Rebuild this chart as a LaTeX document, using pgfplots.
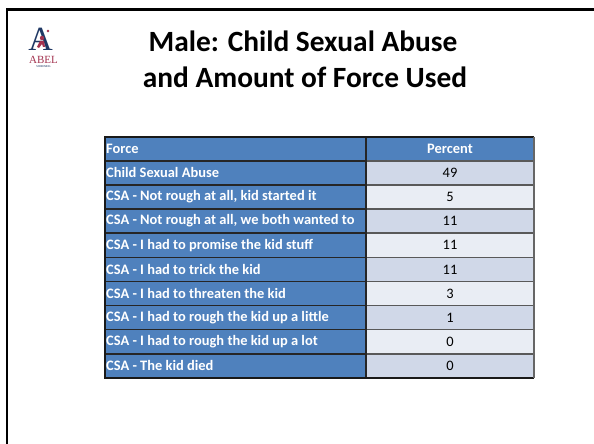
\documentclass[border=0pt]{standalone}
\usepackage{pgfplots}
\pgfplotsset{compat=1.18}
\usepackage{fontspec}
\setmainfont{Carlito}
\newfontfamily\seriffont{Liberation Serif}
\definecolor{hdrblue}{HTML}{4F81BD}
\definecolor{celldark}{HTML}{D0D8E8}
\definecolor{celllight}{HTML}{E9EDF4}
\definecolor{logonavy}{HTML}{1F3864}
\definecolor{logored}{HTML}{A3324F}
\begin{document}
\begin{tikzpicture}
\begin{scope}[x=1bp,y=-1bp,yshift=444bp]
\useasboundingbox (0,0) rectangle (594,444);
\fill[white] (0,0) rectangle (594,444);
\draw[line width=2bp] (7,444) -- (7,9.5);
\draw[line width=3bp] (6,9.5) -- (594,9.5);
\node[font=\bfseries\fontsize{29.5}{36}\selectfont, anchor=base, inner sep=0] at (303,52) {Male: Child Sexual Abuse};
\node[font=\bfseries\fontsize{29.5}{36}\selectfont, anchor=base, inner sep=0] at (305,88) {and Amount of Force Used};
% logo
\node[font=\seriffont\fontsize{34}{34}\selectfont, text=logonavy, anchor=base, inner sep=0] at (40.5,51) {A};
\fill[logored] (48,31) circle (1.3);
\fill[logored] (42,38) circle (2.2);
\fill[logored] (40,41) -- (44,41) -- (45,47) -- (43,47) -- (42,44) -- (39,48) -- (37,47) -- cycle;
\node[font=\seriffont\fontsize{11}{11}\selectfont, text=logored, anchor=base, inner sep=0] at (43.5,64) {ABEL};
\node[font=\fontsize{3}{3}\selectfont, text=logonavy, anchor=base, inner sep=0] at (43.5,68) {SCREENING};
\end{scope}
\begin{axis}[
  at={(105bp,66bp)}, anchor=south west,
  scale only axis, width=429bp, height=241.3bp,
  xmin=0, xmax=429, ymin=-0.5, ymax=9.5, y dir=reverse,
  axis on top,
  axis line style={draw=none}, xtick=\empty,
  ytick={0,1,2,3,4,5,6,7,8,9},
  yticklabels={Force, Child Sexual Abuse, {CSA - Not rough at all, kid started it}, {CSA - Not rough at all, we both wanted to}, CSA - I had to promise the kid stuff, CSA - I had to trick the kid, CSA - I had to threaten the kid, CSA - I had to rough the kid up a little, CSA - I had to rough the kid up a lot, CSA - The kid died},
  major tick length=0,
  yticklabel style={anchor=west, text=white, font=\bfseries\fontsize{14.5}{14.5}\selectfont, inner xsep=1bp},
  clip=false,
]
\fill[hdrblue] (axis cs:0,-0.5) rectangle (axis cs:429,9.5);
\fill[celldark] (axis cs:261,0.5) rectangle (axis cs:429,1.5);
\fill[celllight] (axis cs:261,1.5) rectangle (axis cs:429,2.5);
\fill[celldark] (axis cs:261,2.5) rectangle (axis cs:429,3.5);
\fill[celllight] (axis cs:261,3.5) rectangle (axis cs:429,4.5);
\fill[celldark] (axis cs:261,4.5) rectangle (axis cs:429,5.5);
\fill[celllight] (axis cs:261,5.5) rectangle (axis cs:429,6.5);
\fill[celldark] (axis cs:261,6.5) rectangle (axis cs:429,7.5);
\fill[celllight] (axis cs:261,7.5) rectangle (axis cs:429,8.5);
\fill[celldark] (axis cs:261,8.5) rectangle (axis cs:429,9.5);
\draw[line width=1.5bp, black!85] (axis cs:0,0.5) -- (axis cs:261,0.5);
\draw[line width=1.5bp, black!85] (axis cs:0,1.5) -- (axis cs:261,1.5);
\draw[line width=1.5bp, black!85] (axis cs:0,2.5) -- (axis cs:261,2.5);
\draw[line width=1.5bp, black!85] (axis cs:0,3.5) -- (axis cs:261,3.5);
\draw[line width=1.5bp, black!85] (axis cs:0,4.5) -- (axis cs:261,4.5);
\draw[line width=1.5bp, black!85] (axis cs:0,5.5) -- (axis cs:261,5.5);
\draw[line width=1.5bp, black!85] (axis cs:0,6.5) -- (axis cs:261,6.5);
\draw[line width=1.5bp, black!85] (axis cs:0,7.5) -- (axis cs:261,7.5);
\draw[line width=1.5bp, black!85] (axis cs:0,8.5) -- (axis cs:261,8.5);
\draw[line width=1.5bp, black!65] (axis cs:261,0.5) -- (axis cs:429,0.5);
\draw[line width=1.5bp, black!65] (axis cs:261,1.5) -- (axis cs:429,1.5);
\draw[line width=1.5bp, black!65] (axis cs:261,2.5) -- (axis cs:429,2.5);
\draw[line width=1.5bp, black!65] (axis cs:261,3.5) -- (axis cs:429,3.5);
\draw[line width=1.5bp, black!65] (axis cs:261,4.5) -- (axis cs:429,4.5);
\draw[line width=1.5bp, black!65] (axis cs:261,5.5) -- (axis cs:429,5.5);
\draw[line width=1.5bp, black!65] (axis cs:261,6.5) -- (axis cs:429,6.5);
\draw[line width=1.5bp, black!65] (axis cs:261,7.5) -- (axis cs:429,7.5);
\draw[line width=1.5bp, black!65] (axis cs:261,8.5) -- (axis cs:429,8.5);
\draw[line width=1.5bp, black!85] (axis cs:261,-0.5) -- (axis cs:261,9.5);
\draw[line width=2bp, black!90] (axis cs:429,9.5) -- (axis cs:0,9.5) -- (axis cs:0,-0.5) -- (axis cs:429,-0.5);
\draw[line width=2bp, black!60] (axis cs:429,-0.5) -- (axis cs:429,9.5);
\node[font=\bfseries\fontsize{14.5}{14.5}\selectfont, text=white] at (axis cs:345,0) {Percent};
\addplot[draw=none, mark=none, nodes near coords, point meta=explicit symbolic,
  nodes near coords style={anchor=center, font=\fontsize{14.5}{14.5}\selectfont, text=black}]
  table[meta=v] {
x y v
345 1 49
345 2 5
345 3 11
345 4 11
345 5 11
345 6 3
345 7 1
345 8 0
345 9 0
};
\end{axis}
\end{tikzpicture}
\end{document}
